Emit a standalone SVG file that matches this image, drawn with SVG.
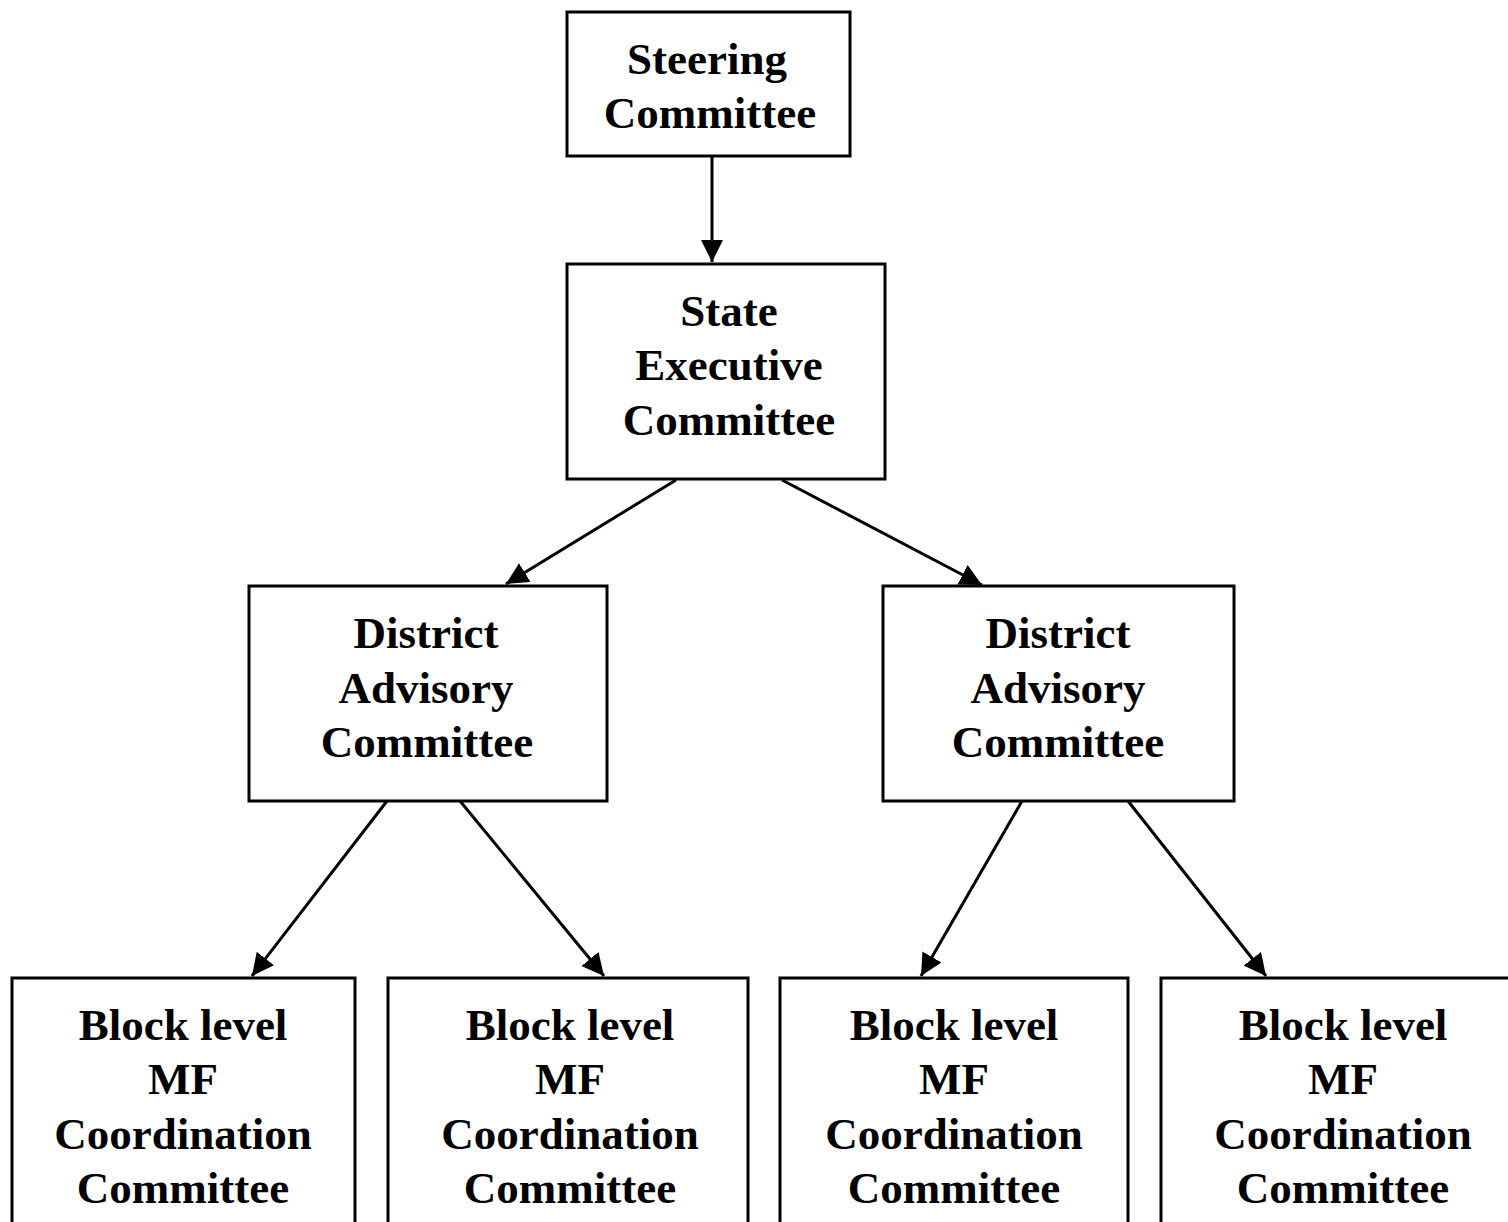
<svg xmlns="http://www.w3.org/2000/svg" width="1508" height="1222" viewBox="0 0 1508 1222">
<style>
.box{fill:#fff;stroke:#000;stroke-width:3}
.t{font-family:"Liberation Serif","Times New Roman",serif;font-weight:bold;font-size:45px;text-anchor:middle;fill:#000}
.c{stroke:#000;stroke-width:3;fill:none}
</style>
<defs>
<marker id="ah" markerUnits="userSpaceOnUse" markerWidth="24" markerHeight="22" refX="22" refY="11" orient="auto">
<path d="M0,0 L22,11 L0,22 Z" fill="#000"/>
</marker>
</defs>
<rect width="1508" height="1222" fill="#fff"/>
<g id="connectors">
<line class="c" x1="712" y1="156" x2="712" y2="262" marker-end="url(#ah)"/>
<line class="c" x1="676" y1="480" x2="506" y2="584" marker-end="url(#ah)"/>
<line class="c" x1="782" y1="480" x2="982" y2="585" marker-end="url(#ah)"/>
<line class="c" x1="387" y1="801" x2="252" y2="976" marker-end="url(#ah)"/>
<line class="c" x1="460" y1="801" x2="604" y2="976" marker-end="url(#ah)"/>
<line class="c" x1="1022" y1="801" x2="921" y2="976" marker-end="url(#ah)"/>
<line class="c" x1="1128" y1="801" x2="1266" y2="976" marker-end="url(#ah)"/>
</g>
<g id="steering">
<rect class="box" x="567" y="12" width="283" height="144"/>
<text class="t" x="707" y="74">Steering</text>
<text class="t" x="710" y="128">Committee</text>
</g>
<g id="state">
<rect class="box" x="567" y="264" width="318" height="215"/>
<text class="t" x="729" y="326">State</text>
<text class="t" x="729" y="380">Executive</text>
<text class="t" x="729" y="435">Committee</text>
</g>
<g id="district1">
<rect class="box" x="249" y="586" width="358" height="215"/>
<text class="t" x="426" y="648">District</text>
<text class="t" x="426" y="703">Advisory</text>
<text class="t" x="427" y="757">Committee</text>
</g>
<g id="district2">
<rect class="box" x="883" y="586" width="351" height="215"/>
<text class="t" x="1058" y="648">District</text>
<text class="t" x="1058" y="703">Advisory</text>
<text class="t" x="1058" y="757">Committee</text>
</g>
<g id="block1">
<rect class="box" x="12" y="978" width="343" height="260"/>
<text class="t" x="183" y="1040">Block level</text>
<text class="t" x="183" y="1094">MF</text>
<text class="t" x="183" y="1149">Coordination</text>
<text class="t" x="183" y="1203">Committee</text>
</g>
<g id="block2">
<rect class="box" x="388" y="978" width="360" height="260"/>
<text class="t" x="570" y="1040">Block level</text>
<text class="t" x="570" y="1094">MF</text>
<text class="t" x="570" y="1149">Coordination</text>
<text class="t" x="570" y="1203">Committee</text>
</g>
<g id="block3">
<rect class="box" x="780" y="978" width="348" height="260"/>
<text class="t" x="954" y="1040">Block level</text>
<text class="t" x="954" y="1094">MF</text>
<text class="t" x="954" y="1149">Coordination</text>
<text class="t" x="954" y="1203">Committee</text>
</g>
<g id="block4">
<rect class="box" x="1161" y="978" width="360" height="260"/>
<text class="t" x="1343" y="1040">Block level</text>
<text class="t" x="1343" y="1094">MF</text>
<text class="t" x="1343" y="1149">Coordination</text>
<text class="t" x="1343" y="1203">Committee</text>
</g>
</svg>
